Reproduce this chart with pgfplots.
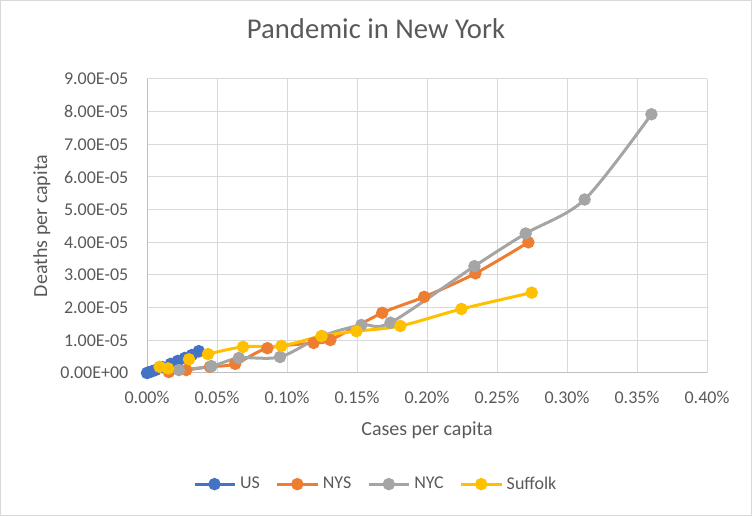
\documentclass[border=0pt]{standalone}
\usepackage{pgfplots}
\pgfplotsset{compat=1.18}
\usepackage{fontspec}
\setmainfont{Carlito}
\definecolor{cUS}{HTML}{4472C4}
\definecolor{cNYS}{HTML}{ED7D31}
\definecolor{cNYC}{HTML}{A5A5A5}
\definecolor{cSUF}{HTML}{FFC000}
\definecolor{txt}{HTML}{595959}
\definecolor{grd}{HTML}{D9D9D9}
\definecolor{axl}{HTML}{BFBFBF}
\begin{document}
\begin{tikzpicture}[x=0.75pt,y=0.75pt]
\path[use as bounding box] (0,0) rectangle (752,516);
\draw[grd,line width=0.75pt] (0.5,0.5) rectangle (751.5,515.5);
\begin{axis}[
  at={(147*0.75pt,143*0.75pt)}, anchor=south west,
  scale only axis, width=420pt, height=220.5pt,
  xmin=0, xmax=0.004, ymin=0, ymax=9e-5,
  scaled x ticks=false, scaled y ticks=false,
  xtick={0,0.0005,0.001,0.0015,0.002,0.0025,0.003,0.0035,0.004},
  xticklabels={0.00\%,0.05\%,0.10\%,0.15\%,0.20\%,0.25\%,0.30\%,0.35\%,0.40\%},
  ytick={0,1e-5,2e-5,3e-5,4e-5,5e-5,6e-5,7e-5,8e-5,9e-5},
  yticklabels={0.00E+00,1.00E-05,2.00E-05,3.00E-05,4.00E-05,5.00E-05,6.00E-05,7.00E-05,8.00E-05,9.00E-05},
  /pgf/number format/assume math mode=true,
  major tick length=0pt,
  grid=major, major grid style={grd, line width=0.75pt},
  axis lines*=left, axis line style={-, axl, line width=0.75pt},
  tick label style={font=\fontsize{13.5pt}{16pt}\selectfont, text=txt},
  yticklabel style={xshift=-10.5pt},
  xticklabel style={yshift=-10pt},
  xlabel={Cases per capita}, ylabel={Deaths per capita},
  label style={font=\fontsize{15pt}{18pt}\selectfont, text=txt},
  xlabel style={at={(axis description cs:0.5,-0.194)}, anchor=center},
  ylabel style={at={(axis description cs:-0.188,0.5)}, anchor=center, rotate=0},
  title={Pandemic in New York},
  title style={at={(axis description cs:0.409,1.143)}, anchor=center, font=\fontsize{21.5pt}{24pt}\selectfont, text=txt},
  legend columns=4,
  legend style={at={(axis description cs:0.409,-0.378)}, anchor=center, draw=none, fill=none,
    font=\fontsize{13.5pt}{16pt}\selectfont, text=txt, /tikz/every even column/.append style={column sep=10pt},
    /tikz/every odd column/.append style={column sep=1pt}},
  legend image code/.code={\draw[#1, mark repeat=2, mark phase=2] plot coordinates {(0pt,0pt) (15pt,0pt) (30pt,0pt)};},
  every axis plot/.append style={line width=2.25pt, smooth, tension=0.5, mark=*, mark size=3.5pt, mark options={solid, line width=0.75pt}},
]
\addplot[cUS, mark options={fill=cUS}] coordinates {
(0,0) (0.000012,0.02e-5) (0.000034,0.05e-5) (0.00006,0.09e-5) (0.00011,0.18e-5)
(0.00017,0.28e-5) (0.00022,0.37e-5) (0.00027,0.46e-5) (0.00032,0.55e-5) (0.00037,0.67e-5)
};
\addlegendentry{US}
\addplot[cNYS, mark options={fill=cNYS}] coordinates {
(0.000156,0.03e-5) (0.00028,0.09e-5) (0.00045,0.19e-5) (0.00063,0.28e-5) (0.00086,0.76e-5)
(0.00119,0.92e-5) (0.00131,1.01e-5) (0.00168,1.84e-5) (0.00198,2.33e-5) (0.002346,3.05e-5) (0.002724,4.0e-5)
};
\addlegendentry{NYS}
\addplot[cNYC, mark options={fill=cNYC}] coordinates {
(0.000228,0.09e-5) (0.00046,0.21e-5) (0.000656,0.46e-5) (0.00095,0.49e-5) (0.00125,1.13e-5)
(0.001531,1.47e-5) (0.001739,1.54e-5) (0.002339,3.27e-5) (0.002705,4.27e-5) (0.003126,5.31e-5) (0.003603,7.92e-5)
};
\addlegendentry{NYC}
\addplot[cSUF, mark options={fill=cSUF}] coordinates {
(0.00009,0.19e-5) (0.00015,0.14e-5) (0.0003,0.42e-5) (0.000436,0.58e-5) (0.000686,0.80e-5)
(0.00096,0.83e-5) (0.001246,1.13e-5) (0.001496,1.28e-5) (0.00181,1.44e-5) (0.002246,1.96e-5) (0.002748,2.46e-5)
};
\addlegendentry{Suffolk}
\end{axis}
\end{tikzpicture}
\end{document}
